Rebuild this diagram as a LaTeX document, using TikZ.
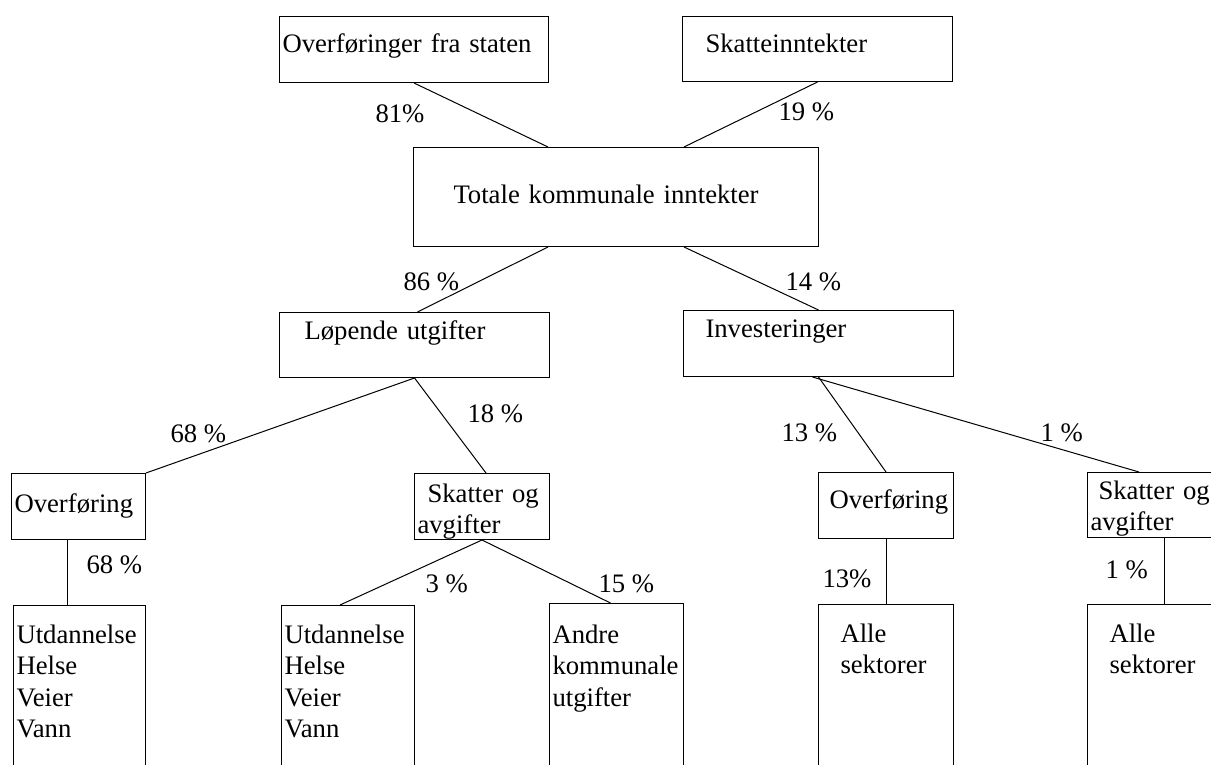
\documentclass[tikz,border=0pt]{standalone}
\usepackage{fontspec}
\setmainfont{Liberation Serif}

\begin{document}
\begin{tikzpicture}[-,x=1pt,y=-1pt,line width=1pt,font=\fontsize{26.7}{31.3}\selectfont,
    box/.style={draw,rectangle,anchor=north west,align=left,inner xsep=3pt,inner ysep=0pt},
    pct/.style={anchor=base west,inner sep=0pt}]

            \useasboundingbox (0,0) rectangle (1211,765);
            \clip (0,0) rectangle (1211,765);

            \node[box, text width=263pt, text height=36pt, text depth=30pt] (staten) at (279,16) {Overføringer fra staten};
            \node[box, text width=264pt, text height=36pt, text depth=29pt] (skatt) at (682,16) {\hspace*{20pt}Skatteinntekter};
            \node[box, text width=399pt, text height=56pt, text depth=43pt] (totale) at (413,147) {\hspace*{37pt}Totale kommunale inntekter};
            \node[box, text width=264pt, text height=27pt, text depth=38pt] (lopende) at (279,312) {\hspace*{22pt}Løpende utgifter};
            \node[box, text width=264pt, text height=27pt, text depth=39pt] (invest) at (683,310) {\hspace*{19pt}Investeringer};

            \node[box, text width=128pt, text height=39pt, text depth=27pt] (overfA) at (11,473) {Overføring};
            \node[box, text width=129pt, text height=29pt, text depth=37pt] (skatterA) at (414,473) {\hspace*{10pt}Skatter og\\avgifter};
            \node[box, text width=129pt, text height=36pt, text depth=30pt] (overfB) at (818,472) {\hspace*{8pt}Overføring};
            \node[box, text width=147pt, text height=27pt, text depth=38pt] (skatterB) at (1087,472) {\hspace*{8pt}Skatter og\\avgifter};

            \node[box, text width=126pt, text height=38pt, text depth=160pt] (utdA) at (13,605) {Utdannelse\\Helse\\Veier\\Vann};
            \node[box, text width=127pt, text height=38pt, text depth=160pt] (utdB) at (281,605) {Utdannelse\\Helse\\Veier\\Vann};
            \node[box, text width=128pt, text height=40pt, text depth=160pt] (andre) at (549,603) {Andre\\kommunale\\utgifter};
            \node[box, text width=129pt, text height=38pt, text depth=160pt] (alleA) at (818,604) {\hspace*{19pt}Alle\\\hspace*{19pt}sektorer};
            \node[box, text width=147pt, text height=38pt, text depth=160pt] (alleB) at (1087,604) {\hspace*{19pt}Alle\\\hspace*{19pt}sektorer};

            \node[pct] (p81) at (375,123) {81\%};
            \node[pct] (p19) at (778,121) {19 \%};
            \node[pct] (p86) at (403,290) {86 \%};
            \node[pct] (p14) at (785,290) {14 \%};
            \node[pct] (p68a) at (170,442) {68 \%};
            \node[pct] (p18) at (467,422) {18 \%};
            \node[pct] (p13a) at (781,441) {13 \%};
            \node[pct] (p1a) at (1040,441) {1 \%};
            \node[pct] (p68b) at (86,573) {68 \%};
            \node[pct] (p3) at (425,592) {3 \%};
            \node[pct] (p15) at (598,592) {15 \%};
            \node[pct] (p13b) at (822,587) {13\%};
            \node[pct] (p1b) at (1105,578) {1 \%};

            \draw[-] (staten.south) to ([xshift=-68pt]totale.north);
            \draw[-] (skatt.south) to ([xshift=68pt]totale.north);
            \draw[-] ([xshift=-68pt]totale.south) to ([xshift=3pt]lopende.north);
            \draw[-] ([xshift=68pt]totale.south) to (invest.north);
            \draw[-] (lopende.south) to (overfA.north east);
            \draw[-] (lopende.south) to ([xshift=4pt]skatterA.north);
            \draw[-] (invest.south) to (overfB.north);
            \draw[-] ([xshift=-6pt]invest.south) to ([xshift=-25pt]skatterB.north);
            \draw[-] ([xshift=-11pt]overfA.south) to ([xshift=-12pt]utdA.north);
            \draw[-] (skatterA.south) to ([xshift=-8pt]utdB.north);
            \draw[-] (skatterA.south) to ([xshift=-6pt]andre.north);
            \draw[-] (overfB.south) to (alleA.north);
            \draw[-] (skatterB.south) to (alleB.north);

            ;
        \end{tikzpicture}
\end{document}
